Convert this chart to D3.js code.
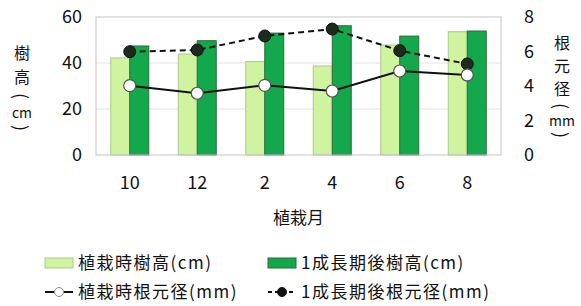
<!DOCTYPE html>
<html>
<head>
<meta charset="utf-8">
<script src="https://cdn.jsdelivr.net/npm/d3@7"></script>
<style>
body { margin: 0; background: #fff; }
text { font-family: "Noto Sans CJK JP", "Noto Sans", sans-serif; fill: #111; }
</style>
</head>
<body>
<svg id="chart" width="581" height="306"></svg>
<script>
var months = ["10", "12", "2", "4", "6", "8"];
var heightPlant = [42.2, 43.9, 40.6, 38.7, 47.8, 53.6];
var heightAfter = [47.4, 49.7, 53.0, 56.2, 51.7, 53.9];
var rootPlant = [4.02, 3.58, 4.04, 3.71, 4.87, 4.64];
var rootAfter = [5.99, 6.09, 6.90, 7.30, 6.05, 5.28];
var leftTicks = [0, 20, 40, 60];
var rightTicks = [0, 2, 4, 6, 8];

var svg = d3.select("#chart");
var m = {l: 96, r: 80, t: 17, b: 151};
var w = 581 - m.l - m.r, h = 306 - m.t - m.b;

var x = d3.scaleBand().domain(months).range([m.l, m.l + w]);
var xs = d3.scaleBand().domain([0, 1]).range([0, 38]);
var yL = d3.scaleLinear().domain([0, 60]).range([m.t + h, m.t]);
var yR = d3.scaleLinear().domain([0, 8]).range([m.t + h, m.t]);

var light = "#d0f3a0", dark = "#14a84c";

// grid
svg.append("g").selectAll("line").data([20, 40]).enter().append("line")
    .attr("x1", m.l).attr("x2", m.l + w)
    .attr("y1", function(d){ return yL(d); }).attr("y2", function(d){ return yL(d); })
    .attr("stroke", "#e2e2e2");

// bars
var g = svg.append("g").selectAll("g").data(months).enter().append("g")
    .attr("transform", function(d){ return "translate(" + (x(d) + (x.bandwidth() - 38) / 2) + ",0)"; });
g.append("rect")
    .attr("x", xs(0)).attr("width", xs.bandwidth())
    .attr("y", function(d, i){ return yL(heightPlant[i]); })
    .attr("height", function(d, i){ return yL(0) - yL(heightPlant[i]); })
    .attr("fill", light).attr("stroke", "#a9c98a").attr("stroke-width", 1);
g.append("rect")
    .attr("x", xs(1)).attr("width", xs.bandwidth())
    .attr("y", function(d, i){ return yL(heightAfter[i]); })
    .attr("height", function(d, i){ return yL(0) - yL(heightAfter[i]); })
    .attr("fill", dark).attr("stroke", "#2f6b3c").attr("stroke-width", 1);

// plot border
svg.append("rect").attr("x", m.l).attr("y", m.t).attr("width", w).attr("height", h)
    .attr("fill", "none").attr("stroke", "#c4c4c4");

var cx = function(d, i){ return x(months[i]) + x.bandwidth() / 2; };

// lines
var line = d3.line().x(cx).y(function(d){ return yR(d); });
svg.append("path").datum(rootAfter).attr("d", line)
    .attr("fill", "none").attr("stroke", "#111").attr("stroke-width", 2)
    .attr("stroke-dasharray", "6,4");
svg.append("path").datum(rootPlant).attr("d", line)
    .attr("fill", "none").attr("stroke", "#111").attr("stroke-width", 2);

svg.append("g").selectAll("circle").data(rootAfter).enter().append("circle")
    .attr("cx", cx).attr("cy", function(d){ return yR(d); }).attr("r", 6)
    .attr("fill", "#1c2b1e").attr("stroke", "#111");
svg.append("g").selectAll("circle").data(rootPlant).enter().append("circle")
    .attr("cx", cx).attr("cy", function(d){ return yR(d); }).attr("r", 6)
    .attr("fill", "#fff").attr("stroke", "#555").attr("stroke-width", 1.2);

// axes
var axL = svg.append("g").attr("transform", "translate(" + (m.l - 14) + ",0)")
    .call(d3.axisLeft(yL).tickValues(leftTicks).tickSize(0).tickPadding(0));
var axR = svg.append("g").attr("transform", "translate(" + (m.l + w + 23) + ",0)")
    .call(d3.axisRight(yR).tickValues(rightTicks).tickSize(0).tickPadding(0));
var axB = svg.append("g").attr("transform", "translate(0," + (m.t + h + 13) + ")")
    .call(d3.axisBottom(x).tickSize(0).tickPadding(8));
[axL, axR, axB].forEach(function(a){
    a.select(".domain").remove();
    a.selectAll("text").style("font-size", "18px").style("font-family", '"Noto Sans CJK JP", sans-serif').attr("fill", "#111");
});

svg.append("text").attr("x", m.l + w / 2).attr("y", 224).attr("text-anchor", "middle")
    .style("font-size", "17px").text("植栽月");

// vertical axis titles, one char per element; brackets turned 90deg
function vtitle(chars, xx, ys) {
    chars.forEach(function(c, i){
        var br = (c == "(" || c == ")");
        svg.append("text")
            .attr("text-anchor", "middle").attr("dominant-baseline", "central")
            .attr("transform", "translate(" + xx + "," + ys[i] + ")" + (br ? " rotate(90)" : ""))
            .style("font-size", br ? "18px" : (c.length > 1 ? "14px" : "16px"))
            .text(c);
    });
}
vtitle(["樹", "高", "(", "cm", ")"], 22, [52, 76, 96, 112, 128]);
vtitle(["根", "元", "径", "(", "mm", ")"], 562, [42, 65, 88, 106, 120, 135]);

// legend
var leg = [
    {label: "植栽時樹高(cm)", x: 45, y: 263, type: "bar", fill: light, stroke: "#a9c98a"},
    {label: "1成長期後樹高(cm)", x: 268, y: 263, type: "bar", fill: dark, stroke: "#2f6b3c"},
    {label: "植栽時根元径(mm)", x: 45, y: 292, type: "open"},
    {label: "1成長期後根元径(mm)", x: 268, y: 292, type: "filled"}
];
leg.forEach(function(d){
    var lg = svg.append("g");
    if (d.type == "bar") {
        lg.append("rect").attr("x", d.x).attr("y", d.y - 5).attr("width", 28).attr("height", 10)
            .attr("fill", d.fill).attr("stroke", d.stroke);
    } else {
        lg.append("line").attr("x1", d.x).attr("x2", d.x + 28).attr("y1", d.y).attr("y2", d.y)
            .attr("stroke", "#111").attr("stroke-width", 2)
            .attr("stroke-dasharray", d.type == "filled" ? "4,3" : null);
        lg.append("circle").attr("cx", d.x + 14).attr("cy", d.y).attr("r", 4.5)
            .attr("fill", d.type == "filled" ? "#111" : "#fff")
            .attr("stroke", d.type == "filled" ? "#111" : "#888");
    }
    lg.append("text").attr("x", d.x + 33).attr("y", d.y + 6)
        .style("font-size", "17px").style("letter-spacing", "1.5px").text(d.label);
});
</script>
</body>
</html>
